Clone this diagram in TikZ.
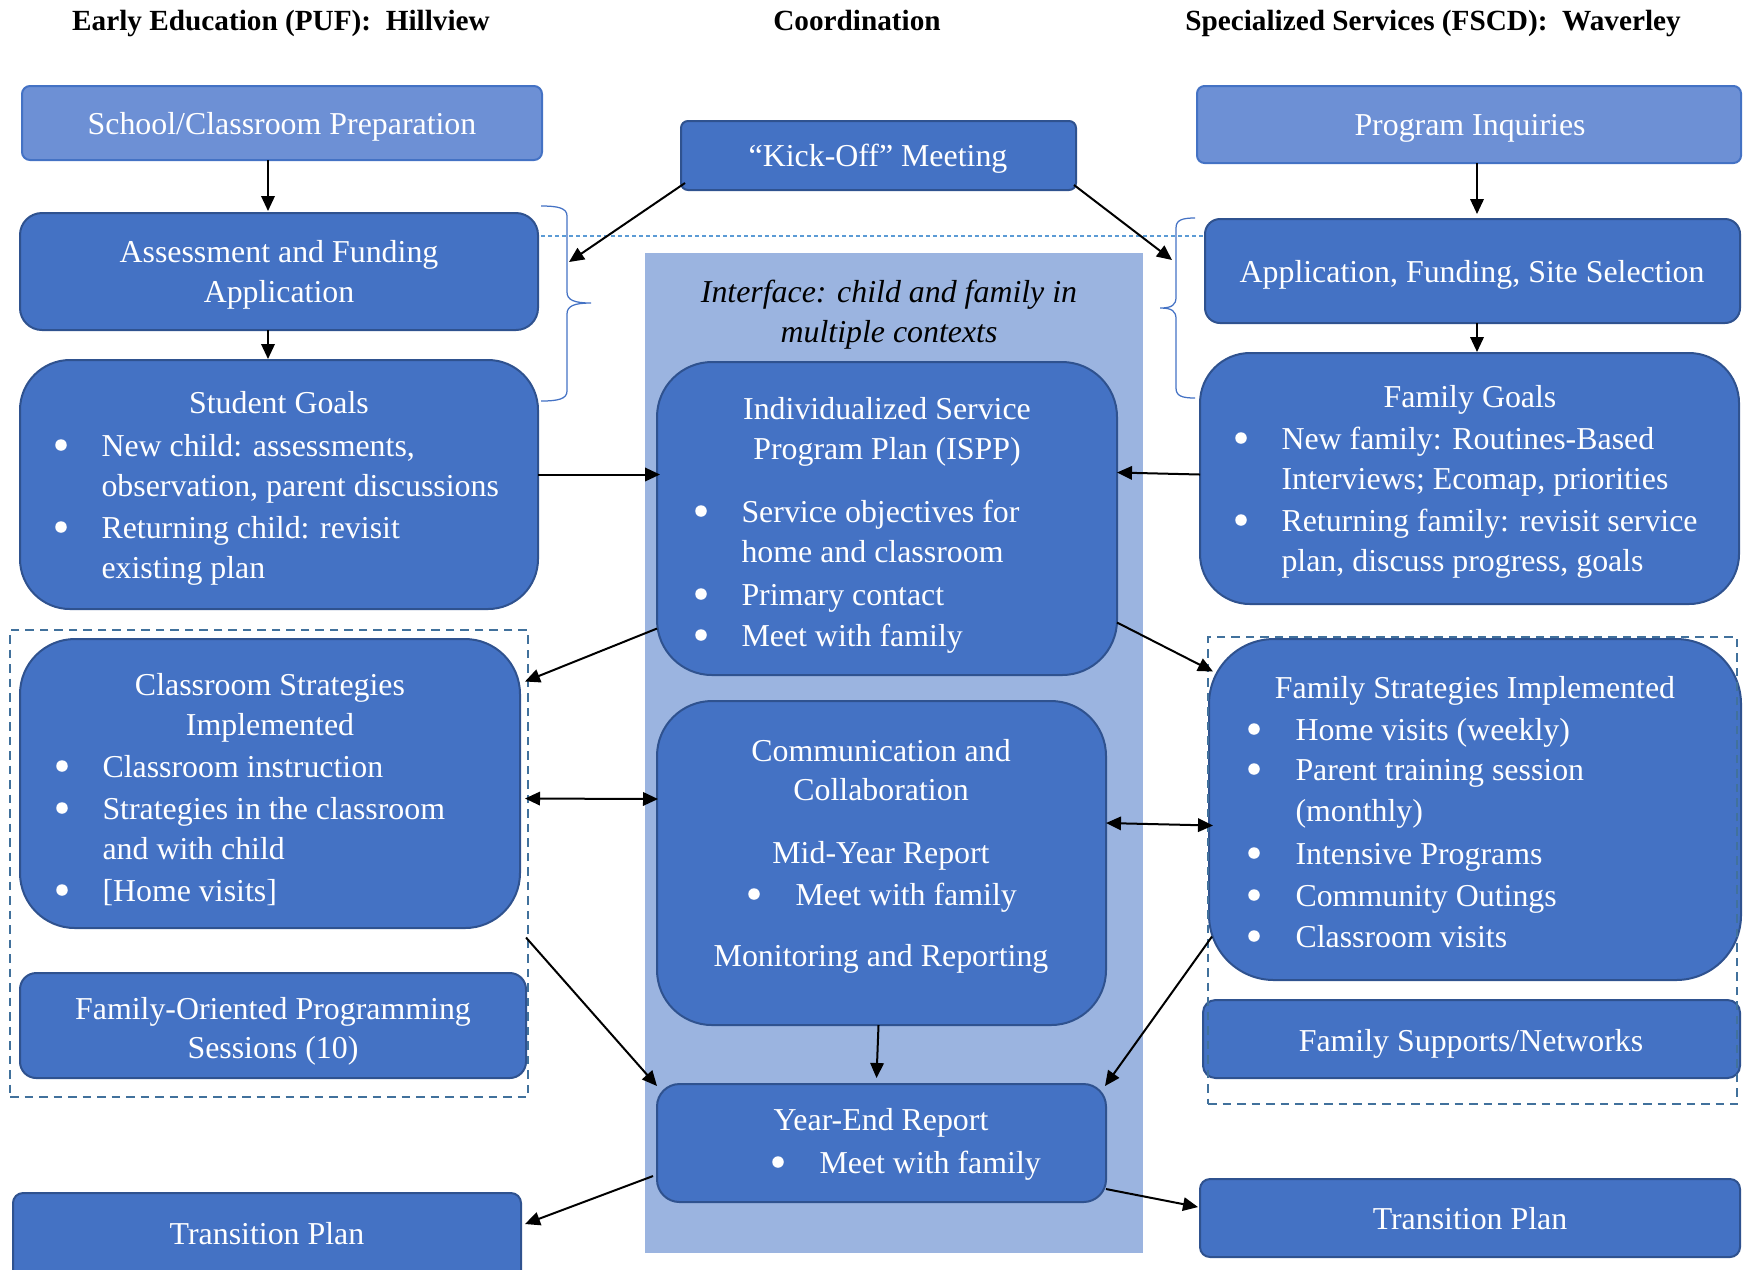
\documentclass[tikz,border=0pt]{standalone}
\usepackage{fontspec}
\setmainfont{Liberation Serif}
\usetikzlibrary{calc,arrows.meta}

\definecolor{boxfill}{HTML}{4472C4}
\definecolor{boxline}{HTML}{2F528F}
\definecolor{lightfill}{HTML}{6D90D5}
\definecolor{lightline}{HTML}{4472C4}
\definecolor{ifacefill}{HTML}{9BB4E0}
\definecolor{grpline}{HTML}{41719C}
\definecolor{guide}{HTML}{5B9BD5}

% box outline placed by its top-left and bottom-right corners (pixel grid)
\newcommand{\panel}[7]{\node[#2, rounded corners=#7, anchor=north west,
  minimum width={(#5-#3)*0.4pt}, minimum height={(#6-#4)*0.4pt}] (#1) at (#3,#4) {};}
% single text lines and bullet dots
\newcommand{\ctxt}[4]{\node[txt,anchor=mid] (#1) at (#2,#3) {#4};}
\newcommand{\ltxt}[4]{\node[txt,anchor=mid west] (#1) at (#2,#3) {#4};}
\newcommand{\btxt}[3]{\node[dot] (#1) at (#2,#3) {};}

\begin{document}
\begin{tikzpicture}[x=0.4pt,y=-0.4pt,
  dark/.style={draw=boxline, fill=boxfill, line width=0.8pt, outer sep=0pt, inner sep=0pt},
  light/.style={draw=lightline, fill=lightfill, line width=0.8pt, outer sep=0pt, inner sep=0pt},
  grp/.style={draw=grpline, dash pattern=on 3.4pt off 2.4pt, line width=0.9pt, outer sep=0pt, inner sep=0pt},
  txt/.style={inner sep=0pt, text=white, yshift=-2.2pt, font=\fontsize{12.75}{15}\selectfont},
  dot/.style={circle, fill=white, inner sep=0pt, minimum size=4.6pt},
  head/.style={inner sep=0pt, text=black, yshift=-1.8pt, font=\bfseries\fontsize{11.7}{14}\selectfont},
  note/.style={inner sep=0pt, text=black, yshift=-2.2pt, font=\itshape\fontsize{12.75}{15}\selectfont},
  brace/.style={draw=lightline, line width=0.5pt},
  arr/.style={-{Triangle[length=6pt,width=5.4pt]}, line width=0.8pt, black},
  darr/.style={{Triangle[length=6pt,width=5.4pt]}-{Triangle[length=6pt,width=5.4pt]}, line width=0.8pt, black}]

\useasboundingbox (0,0) rectangle (1743,1269);

% column headings
\node[head,anchor=mid] (h-left) at (281,20) {Early Education (PUF):\ \ Hillview};
\node[head,anchor=mid] (h-mid) at (857,20) {Coordination};
\node[head,anchor=mid] (h-right) at (1433,20) {Specialized Services (FSCD):\ \ Waverley};

% shared interface band
\fill[ifacefill] (645,253) rectangle (1143,1253);
\node[note,anchor=mid] (iface1) at (889,291) {Interface: child and family in};
\node[note,anchor=mid] (iface2) at (889,331) {multiple contexts};

% boxes
\panel{school}{light}{22}{86}{542}{160}{3.2pt}
\panel{kick}{dark}{681}{121}{1076}{190}{2.8pt}
\panel{prog}{light}{1197}{86}{1741}{163}{3pt}
\panel{assess}{dark}{20}{213}{538}{330}{8.8pt}
\panel{appl}{dark}{1205}{219}{1740}{323}{6pt}
\panel{stu}{dark}{20}{360}{538}{609}{20pt}
\panel{fgoal}{dark}{1200}{353}{1739}{604}{20pt}
\panel{isp}{dark}{657}{362}{1117}{675}{22pt}
\panel{com}{dark}{657}{701}{1106}{1025}{22pt}
\panel{yer}{dark}{657}{1084}{1106}{1202}{9pt}
\panel{cls}{dark}{20}{639}{520}{928}{22pt}
\panel{fop}{dark}{20}{973}{526}{1078}{6.5pt}
\panel{fst}{dark}{1209}{639}{1741}{980}{26pt}
\panel{fsn}{dark}{1203}{1000}{1740}{1078}{5pt}
\panel{trL}{dark}{13}{1193}{521}{1285}{4pt}
\panel{trR}{dark}{1200}{1179}{1740}{1257}{4pt}

% box texts
\ctxt{t-school}{282}{123}{School/Classroom Preparation}
\ctxt{t-kick}{878}{155}{“Kick-Off” Meeting}
\ctxt{t-prog}{1470}{124}{Program Inquiries}
\ctxt{t-assess1}{279}{251}{Assessment and Funding}
\ctxt{t-assess2}{279}{291}{Application}
\ctxt{t-appl}{1472}{271}{Application, Funding, Site Selection}

\ctxt{t-stu}{279}{402}{Student Goals}
\btxt{b-stu1}{61}{445}
\ltxt{t-stu1}{101}{445}{New child: assessments,}
\ltxt{t-stu2}{101}{485}{observation, parent discussions}
\btxt{b-stu2}{61}{527}
\ltxt{t-stu3}{101}{527}{Returning child: revisit}
\ltxt{t-stu4}{101}{567}{existing plan}

\ctxt{t-fgoal}{1470}{396}{Family Goals}
\btxt{b-fg1}{1241}{438}
\ltxt{t-fg1}{1281}{438}{New family: Routines-Based}
\ltxt{t-fg2}{1281}{478}{Interviews; Ecomap, priorities}
\btxt{b-fg2}{1241}{520}
\ltxt{t-fg3}{1281}{520}{Returning family: revisit service}
\ltxt{t-fg4}{1281}{560}{plan, discuss progress, goals}

\ctxt{t-isp1}{887}{408}{Individualized Service}
\ctxt{t-isp2}{887}{448}{Program Plan (ISPP)}
\btxt{b-isp1}{701}{511}
\ltxt{t-isp3}{741}{511}{Service objectives for}
\ltxt{t-isp4}{741}{551}{home and classroom}
\btxt{b-isp2}{701}{594}
\ltxt{t-isp5}{741}{594}{Primary contact}
\btxt{b-isp3}{701}{635}
\ltxt{t-isp6}{741}{635}{Meet with family}

\ctxt{t-com1}{881}{750}{Communication and}
\ctxt{t-com2}{881}{789}{Collaboration}
\ctxt{t-com3}{881}{852}{Mid-Year Report}
\btxt{b-com}{754}{894}
\ltxt{t-com4}{795}{894}{Meet with family}
\ctxt{t-com5}{881}{955}{Monitoring and Reporting}

\ctxt{t-yer1}{881}{1119}{Year-End Report}
\btxt{b-yer}{778}{1162}
\ltxt{t-yer2}{819}{1162}{Meet with family}

\ctxt{t-cls1}{270}{684}{Classroom Strategies}
\ctxt{t-cls2}{270}{724}{Implemented}
\btxt{b-cls1}{62}{766}
\ltxt{t-cls3}{102}{766}{Classroom instruction}
\btxt{b-cls2}{62}{808}
\ltxt{t-cls4}{102}{808}{Strategies in the classroom}
\ltxt{t-cls5}{102}{848}{and with child}
\btxt{b-cls3}{62}{890}
\ltxt{t-cls6}{102}{890}{[Home visits]}

\ctxt{t-fop1}{273}{1008}{Family-Oriented Programming}
\ctxt{t-fop2}{273}{1047}{Sessions (10)}

\ctxt{t-fst}{1475}{687}{Family Strategies Implemented}
\btxt{b-fst1}{1254}{729}
\ltxt{t-fst1}{1295}{729}{Home visits (weekly)}
\btxt{b-fst2}{1254}{769}
\ltxt{t-fst2}{1295}{769}{Parent training session}
\ltxt{t-fst3}{1295}{810}{(monthly)}
\btxt{b-fst3}{1254}{853}
\ltxt{t-fst4}{1295}{853}{Intensive Programs}
\btxt{b-fst4}{1254}{895}
\ltxt{t-fst5}{1295}{895}{Community Outings}
\btxt{b-fst5}{1254}{936}
\ltxt{t-fst6}{1295}{936}{Classroom visits}

\ctxt{t-fsn}{1471}{1040}{Family Supports/Networks}
\ctxt{t-trL}{267}{1233}{Transition Plan}
\ctxt{t-trR}{1470}{1218}{Transition Plan}

% dashed groupings
\panel{lgrp}{grp}{10}{630}{528}{1097}{0pt}
\panel{rgrp}{grp}{1208}{637}{1737}{1104}{0pt}

% braces and guide line
\draw[guide, dash pattern=on 1.6pt off 1.2pt, line width=0.5pt] (541,236) -- (1206,236);
\draw[brace] (541,206) .. controls (558,206) and (567,208) .. (567,216) -- (567,292)
  .. controls (567,300) and (574,303) .. (591,303)
  .. controls (574,303) and (567,306) .. (567,314) -- (567,391)
  .. controls (567,399) and (558,401) .. (541,401);
\draw[brace] (1195,218) .. controls (1182,218) and (1176,220) .. (1176,228) -- (1176,297)
  .. controls (1176,305) and (1172,308) .. (1160,308)
  .. controls (1172,308) and (1176,311) .. (1176,319) -- (1176,388)
  .. controls (1176,396) and (1182,398) .. (1195,398);
\coordinate (lhit) at (569,262);
\coordinate (rhit) at (1172,260);

% connectors
\draw[arr] ($(school.south)+(-14,0)$) -- ($(assess.north)+(-11,-2)$);
\draw[arr] ($(assess.south)+(-11,0)$) -- ($(stu.north)+(-11,-1)$);
\draw[arr] ($(prog.south)+(8,0)$) -- ($(appl.north)+(4.5,-5)$);
\draw[arr] ($(appl.south)+(4.5,0)$) -- ($(fgoal.north)+(7.5,-1)$);
\draw[arr] ($(kick.south west)+(4,-7)$) -- (lhit);
\draw[arr] ($(kick.south east)+(-2,-5)$) -- (rhit);
\draw[arr] ($(stu.east)+(0,-10)$) coordinate (p1) -- ($(p1 -| isp.west)+(3,0)$);
\draw[arr] ($(fgoal.west)+(0,-4)$) -- ($(isp.east)+(0,-46)$);
\draw[arr] ($(isp.west)+(0,110)$) -- ($(cls.east)+(5,-102)$);
\draw[arr] ($(isp.east)+(0,104)$) -- ($(fst.west)+(4,-138)$);
\draw[darr] ($(cls.east)+(5,15)$) -- ($(com.west)+(1,-64)$);
\draw[darr] ($(com.east)+(0,-40)$) -- ($(fst.west)+(4,16)$);
\draw[arr] ($(com.south)+(-3,0)$) -- ($(yer.north)+(-5,-6)$);
\draw[arr] ($(lgrp.east)+(-2,74)$) -- ($(yer.north west)+(0,2)$);
\draw[arr] ($(rgrp.west)+(4,66)$) -- ($(yer.north east)+(-1,2)$);
\draw[arr] ($(yer.west)+(-4,33)$) -- ($(trL.east)+(4,-15)$);
\draw[arr] ($(yer.east)+(0,46)$) -- ($(trR.west)+(-2,-11)$);
\end{tikzpicture}
\end{document}
